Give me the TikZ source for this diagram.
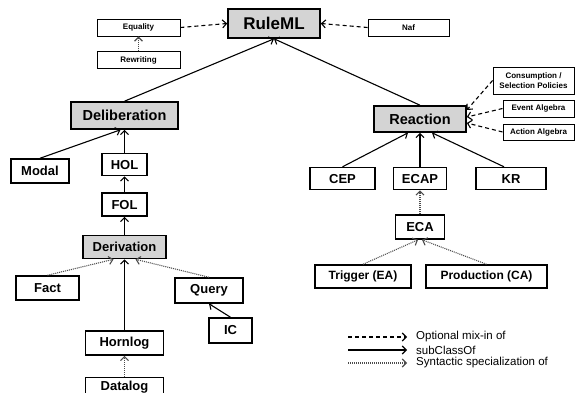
\documentclass[tikz,border=0pt]{standalone}
\usepackage{fontspec}
\setmainfont{Liberation Sans}
\usetikzlibrary{positioning, arrows.meta}
\tikzstyle{SubClass} = [
    line width=1.1pt,
    -{Straight Barb[length=4pt, width=8pt, line width=1.1pt]}
]
\tikzstyle{Mixin} = [SubClass, dash pattern=on 4pt off 3pt]
\tikzstyle{Syntax} = [SubClass, draw=black!70, dash pattern=on 1pt off 1pt]

\begin{document}
\begin{tikzpicture}[
x=1pt, y=-1pt,
rootbox/.style={
    draw, fill=black!17, line width=1.6pt, inner sep=0pt,
    font=\fontsize{17}{17}\selectfont\bfseries,
    minimum width=92pt, minimum height=29pt
    },
groupbox/.style={
    rootbox, font=\fontsize{14.5}{14.5}\selectfont\bfseries,
    minimum height=27pt
    },
langbox/.style={
    draw, line width=1.5pt, inner sep=0pt,
    font=\fontsize{13}{13}\selectfont\bfseries,
    minimum height=23pt
    },
extbox/.style={
    draw, line width=0.9pt, inner sep=0pt, align=center,
    font=\fontsize{8}{9.5}\selectfont\bfseries,
    minimum height=17pt
    },
legend/.style={
    anchor=west, inner sep=0pt,
    font=\fontsize{11.5}{11.5}\selectfont
    }
]
\useasboundingbox (0,0) rectangle (575,393);

\node [rootbox] (ruleml) at (274,23.5) {RuleML};
\node [extbox, minimum width=83pt] (equality) at (138.5,27.5) {Equality};
\node [extbox, minimum width=83pt, below = 15pt of equality] (rewriting) {Rewriting};
\node [extbox, minimum width=81pt] (naf) at (408.5,27.5) {Naf};

\node [groupbox, minimum width=107pt] (delib) at (124.5,115.5) {Deliberation};
\node [langbox, minimum width=58pt, minimum height=24pt] (modal) at (40,171) {Modal};
\node [langbox, minimum width=45pt, minimum height=22pt, below = 23pt of delib] (hol) {HOL};
\node [langbox, minimum width=45pt, below = 16pt of hol] (fol) {FOL};
\node [langbox, fill=black!17, minimum width=83pt, below = 18pt of fol] (deriv) {Derivation};
\node [langbox, minimum width=63pt, minimum height=24pt] (fact) at (47.5,288) {Fact};
\node [langbox, minimum width=68pt, minimum height=25pt] (query) at (209,290.5) {Query};
\node [langbox, minimum width=43pt, minimum height=25pt] (ic) at (230.5,330.5) {IC};
\node [langbox, minimum width=78pt, minimum height=24pt, below = 71pt of deriv] (hornlog) {Hornlog};
\node [langbox, minimum width=78pt, minimum height=19pt, below = 21pt of hornlog] (datalog) {Datalog};

\node [groupbox, minimum height=26pt] (reaction) at (420,119) {Reaction};
\node [extbox, minimum width=81pt, minimum height=27pt] (consump) at (533.5,80.5) {Consumption /\\Selection Policies};
\node [extbox, minimum width=71pt] (eventalg) at (538.5,108.5) {Event Algebra};
\node [extbox, minimum width=71pt, minimum height=16pt] (actionalg) at (538.5,132) {Action Algebra};
\node [langbox, minimum width=53pt, minimum height=22pt, below = 34pt of reaction] (ecap) {ECAP};
\node [langbox, minimum width=65pt, minimum height=22pt, left = 17pt of ecap] (cep) {CEP};
\node [langbox, minimum width=70pt, minimum height=22pt, right = 28pt of ecap] (kr) {KR};
\node [langbox, minimum width=49pt, minimum height=24pt, below = 24pt of ecap] (eca) {ECA};
\node [langbox, font=\fontsize{12}{12}\selectfont\bfseries, minimum width=96pt] (trigger) at (363,276.5) {Trigger (EA)};
\node [langbox, font=\fontsize{12}{12}\selectfont\bfseries, minimum width=121pt] (production) at (486.5,276.5) {Production (CA)};

\draw[Mixin] (equality.east) -- (ruleml.west);
\draw[Mixin] (naf.west) -- (ruleml.east);
\draw[Syntax] (rewriting) -- (equality);

\draw[SubClass] (delib.north) -- (ruleml.south);
\draw[SubClass] (reaction.north) -- (ruleml.south);

\draw[SubClass] (modal.north) -- ([xshift=-4pt]delib.south);
\draw[SubClass] (hol) -- (delib);
\draw[SubClass] (fol) -- (hol);
\draw[SubClass] (deriv) -- (fol);

\draw[Syntax] (fact.north) -- ([xshift=-11pt]deriv.south);
\draw[SubClass] (hornlog) -- (deriv);
\draw[Syntax] (query.north) -- ([xshift=11pt]deriv.south);
\draw[SubClass] (ic.north) -- (query.south);
\draw[Syntax] (datalog) -- (hornlog);

\draw[Mixin] (consump.west) -- ([yshift=9pt]reaction.east);
\draw[Mixin] (eventalg.west) -- ([yshift=2pt]reaction.east);
\draw[Mixin] (actionalg.west) -- ([yshift=-4pt]reaction.east);

\draw[SubClass] (cep.north) -- ([xshift=-12pt]reaction.south);
\draw[SubClass] (ecap) -- (reaction);
\draw[SubClass] ([xshift=-7pt]kr.north) -- ([xshift=12pt]reaction.south);

\draw[Syntax] (eca) -- (ecap);
\draw[Syntax] (trigger.north) -- ([xshift=-2pt]eca.south);
\draw[Syntax] (production.north) -- ([xshift=2pt]eca.south);

% legend
\coordinate (mixstart) at (348,337);
\coordinate (substart) at (348,350);
\coordinate (synstart) at (348,363);
\node [legend] (mixtext) at (416,337) {Optional mix-in of};
\node [legend] (subtext) at (416,350) {subClassOf};
\node [legend] (syntext) at (416,363) {Syntactic specialization of};
\draw[Mixin] (mixstart) -- ([xshift=-9pt]mixtext.west);
\draw[SubClass] (substart) -- ([xshift=-9pt]subtext.west);
\draw[Syntax] (synstart) -- ([xshift=-9pt]syntext.west);

\end{tikzpicture}
\end{document}
